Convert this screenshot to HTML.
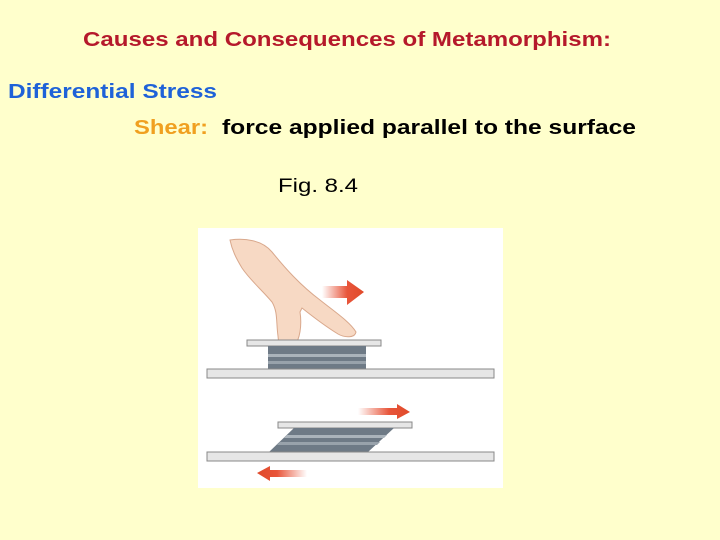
<!DOCTYPE html>
<html><head><style>html,body{margin:0;padding:0;background:#ffffcc;}</style></head>
<body>
<svg width="720" height="540" xmlns="http://www.w3.org/2000/svg" style="display:block">
<defs>
<linearGradient id="ar" x1="0" x2="1"><stop offset="0" stop-color="#e8553a" stop-opacity="0"/><stop offset="0.6" stop-color="#e8553a"/><stop offset="1" stop-color="#e04a2a"/></linearGradient>
<linearGradient id="al" x1="1" x2="0"><stop offset="0" stop-color="#e8553a" stop-opacity="0"/><stop offset="0.6" stop-color="#e8553a"/><stop offset="1" stop-color="#e04a2a"/></linearGradient>
</defs>
<rect width="720" height="540" fill="#ffffcc"/>
<g font-family="Liberation Sans, Arial, sans-serif" font-weight="bold" font-size="20">
<text x="83" y="46" fill="#b5192b" textLength="528" lengthAdjust="spacingAndGlyphs">Causes and Consequences of Metamorphism:</text>
<text x="8" y="98" fill="#1f62d8" textLength="209" lengthAdjust="spacingAndGlyphs">Differential Stress</text>
<text x="134" y="134" fill="#f0a020" textLength="74" lengthAdjust="spacingAndGlyphs">Shear:</text>
<text x="222" y="134" fill="#000" textLength="414" lengthAdjust="spacingAndGlyphs">force applied parallel to the surface</text>
</g>
<text x="278" y="192" font-family="Liberation Sans, Arial, sans-serif" font-size="19" fill="#000" textLength="80" lengthAdjust="spacingAndGlyphs">Fig. 8.4</text>
<rect x="198" y="228" width="305" height="260" fill="#fff"/>
<path d="M230 240 C245 238 262 240 272 252 C285 268 300 285 320 300 C335 312 350 322 356 332 C355 338 345 338 338 334 C325 326 312 316 302 308 L300 312 C302 325 300 340 294 346 C286 350 278 345 278 336 C276 322 278 312 272 302 C262 290 250 280 242 268 C236 258 232 250 230 240 Z" fill="#f7d9c4" stroke="#d9a88c" stroke-width="1"/>
<path d="M322 286 L347 286 L347 280 L364 292 L347 305 L347 298 L322 298 Z" fill="url(#ar)"/>
<rect x="247" y="340" width="134" height="6" fill="#e6e6e6" stroke="#888" stroke-width="1"/>
<rect x="268" y="346" width="98" height="23" fill="#6e7a86"/>
<rect x="268" y="354" width="98" height="3" fill="#aab3bb"/>
<rect x="268" y="361" width="98" height="3" fill="#98a2ab"/>
<rect x="207" y="369" width="287" height="9" fill="#e6e6e6" stroke="#888" stroke-width="1"/>
<path d="M358 408 L397 408 L397 404 L410 412 L397 419 L397 415 L358 415 Z" fill="url(#ar)"/>
<rect x="278" y="422" width="134" height="6" fill="#e6e6e6" stroke="#888" stroke-width="1"/>
<path d="M294 428 L394 428 L368 452 L269 452 Z" fill="#6e7a86"/>
<path d="M287 435 L387 435 L384 438 L284 438 Z" fill="#aab3bb"/>
<path d="M280 442 L380 442 L377 445 L277 445 Z" fill="#98a2ab"/>
<rect x="207" y="452" width="287" height="9" fill="#e6e6e6" stroke="#888" stroke-width="1"/>
<path d="M307 470 L270 470 L270 466 L257 473 L270 481 L270 477 L307 477 Z" fill="url(#al)"/>
</svg>
</body></html>
